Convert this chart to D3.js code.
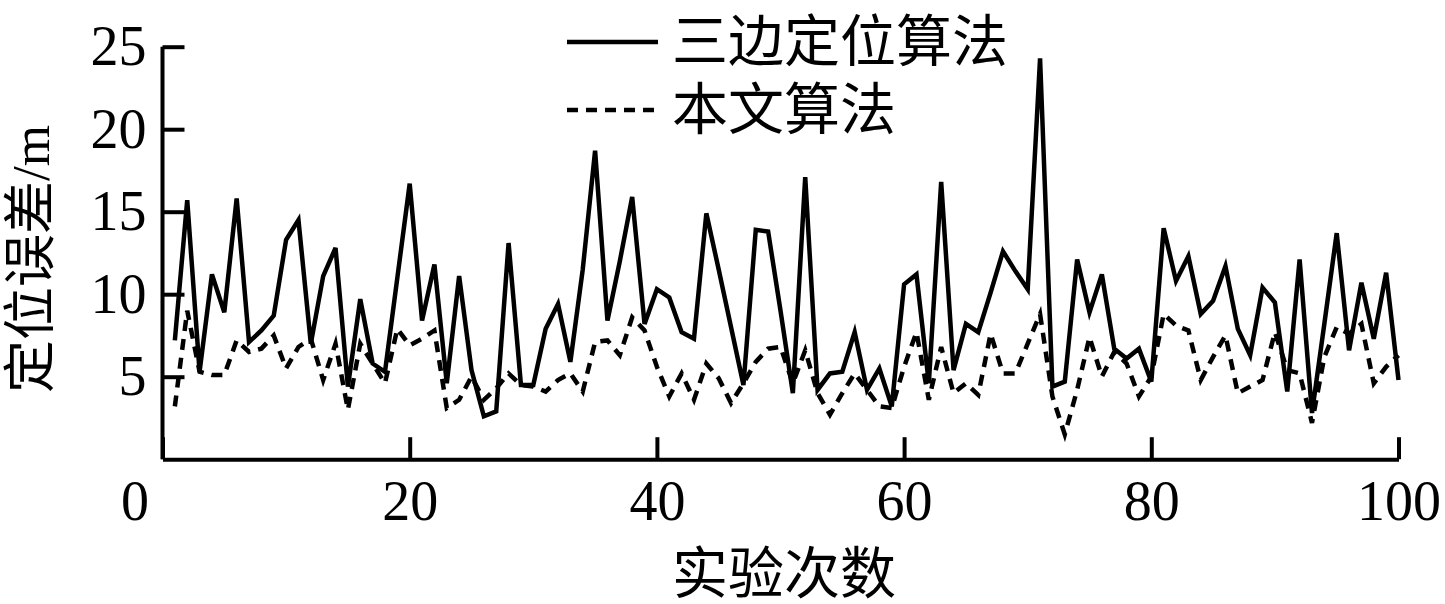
<!DOCTYPE html>
<html>
<head>
<meta charset="utf-8">
<script src="https://cdn.jsdelivr.net/npm/d3@7"></script>
<style>
  body { margin: 0; background: #fff; }
  .axis text { font-family: "Liberation Serif", "Noto Sans CJK SC", serif; font-size: 56px; fill: #000; }
  .axis path, .axis line { stroke: #000; stroke-width: 4; }
  .cn { font-family: "Liberation Serif", "Noto Sans CJK SC", serif; font-size: 56px; fill: #000; }
</style>
</head>
<body>
<div id="chart"></div>
<script>
// Data
const trials = d3.range(1, 101);
const trilateration = [
  7.2, 15.7, 5.3, 11.2, 8.9, 15.8, 7.1, 7.8, 8.7, 13.3,
  14.5, 7.0, 11.1, 12.8, 4.4, 9.7, 5.8, 5.3, 11.0, 16.7,
  8.4, 11.8, 4.6, 11.1, 5.4, 2.6, 2.9, 13.1, 4.5, 4.5,
  7.9, 9.4, 5.9, 11.5, 18.7, 8.4, 12.0, 15.9, 8.2, 10.3,
  9.8, 7.7, 7.3, 14.9, 11.5, 8.0, 4.5, 13.9, 13.8, 9.0,
  4.0, 17.1, 4.2, 5.2, 5.3, 7.7, 4.2, 5.5, 3.2, 10.6,
  11.2, 4.6, 16.8, 5.4, 8.2, 7.7, 10.1, 12.6, 11.4, 10.3,
  24.3, 4.4, 4.7, 12.1, 8.9, 11.2, 6.7, 6.1, 6.7, 4.7,
  14.0, 10.8, 12.3, 8.8, 9.6, 11.7, 7.9, 6.3, 10.4, 9.5,
  4.1, 12.1, 2.8, 8.2, 13.7, 6.6, 10.7, 7.3, 11.3, 4.8
];
const proposed = [
  3.2, 9.0, 5.3, 5.1, 5.1, 7.2, 6.5, 6.7, 7.5, 5.5,
  6.8, 7.3, 4.8, 7.0, 3.0, 7.0, 5.8, 4.6, 7.9, 6.9,
  7.3, 7.8, 3.1, 3.6, 5.0, 3.6, 4.3, 5.2, 4.5, 4.4,
  4.1, 4.8, 5.2, 4.1, 7.1, 7.2, 6.3, 8.6, 7.8, 5.6,
  3.8, 5.2, 3.6, 5.8, 4.9, 3.4, 4.6, 5.9, 6.7, 6.8,
  4.6, 6.6, 4.0, 2.7, 4.0, 5.2, 4.2, 3.2, 3.1, 5.6,
  7.7, 3.6, 6.8, 4.0, 4.6, 3.9, 7.6, 5.2, 5.2, 7.0,
  8.8, 3.8, 1.5, 4.2, 7.4, 5.0, 6.5, 5.8, 3.8, 5.0,
  8.8, 8.1, 7.8, 4.8, 6.2, 7.5, 4.0, 4.4, 4.8, 7.7,
  5.4, 5.2, 2.2, 6.2, 8.0, 7.6, 8.2, 4.6, 5.6, 6.3
];
const xTicks = [0, 20, 40, 60, 80, 100];
const yTicks = [5, 10, 15, 20, 25];
const seriesNames = ["三边定位算法", "本文算法"];

// Dimensions
const dims = {
  width: 1445,
  height: 604,
  left: 162.5,
  right: 1398.5,
  top: 46.7,
  bottom: 459.2
};

const svg = d3.select("#chart")
  .append("svg")
  .attr("width", dims.width)
  .attr("height", dims.height);

// Scales
const xScale = d3.scaleLinear().domain([0, 100]).range([dims.left, dims.right]);
const yScale = d3.scaleLinear().domain([0, 25]).range([dims.bottom, dims.top]);

// Axes
const xAxis = d3.axisBottom(xScale)
  .tickValues(xTicks)
  .tickSizeInner(-22)
  .tickSizeOuter(0)
  .tickPadding(21);
const yAxis = d3.axisLeft(yScale)
  .tickValues(yTicks)
  .tickSizeInner(-22)
  .tickSizeOuter(0)
  .tickPadding(16);

const xAxisGroup = svg.append("g")
  .classed("axis", true)
  .attr("transform", `translate(0, ${dims.bottom})`)
  .call(xAxis);
xAxisGroup.selectAll(".tick text").attr("dy", "0.71em");
// the origin label sits left of the corner
xAxisGroup.selectAll(".tick")
  .filter(d => d === 0)
  .select("text")
  .attr("x", -28);

const yAxisGroup = svg.append("g")
  .classed("axis", true)
  .attr("transform", `translate(${dims.left}, 0)`)
  .call(yAxis);
yAxisGroup.select(".domain").attr("d", `M0,${dims.top}V${dims.bottom}`);

// Lines
const lineFor = (vals) => d3.line()
  .x((d, i) => xScale(trials[i]))
  .y(d => yScale(d))(vals);

svg.append("path")
  .attr("d", lineFor(proposed))
  .attr("fill", "none")
  .attr("stroke", "#000")
  .attr("stroke-width", 4.5)
  .attr("stroke-dasharray", "11,8");

svg.append("path")
  .attr("d", lineFor(trilateration))
  .attr("fill", "none")
  .attr("stroke", "#000")
  .attr("stroke-width", 4.5)
  .attr("stroke-linejoin", "miter");

// Labels
svg.append("text")
  .classed("cn", true)
  .attr("x", 784)
  .attr("y", 574)
  .attr("text-anchor", "middle")
  .attr("dominant-baseline", "central")
  .text("实验次数");

svg.append("text")
  .classed("cn", true)
  .style("font-size", "53px")
  .attr("transform", "translate(31, 259) rotate(-90)")
  .attr("text-anchor", "middle")
  .attr("dominant-baseline", "central")
  .text("定位误差/m");

// Legend
const legend = svg.append("g");
const legendY = [42, 110];
seriesNames.forEach((name, i) => {
  legend.append("line")
    .attr("x1", 567).attr("x2", 658)
    .attr("y1", legendY[i]).attr("y2", legendY[i])
    .attr("stroke", "#000")
    .attr("stroke-width", 4.5)
    .attr("stroke-dasharray", i === 1 ? "11,8" : null);
  legend.append("text")
    .classed("cn", true)
    .attr("x", 672)
    .attr("y", legendY[i])
    .attr("dominant-baseline", "central")
    .text(name);
});
</script>
</body>
</html>
